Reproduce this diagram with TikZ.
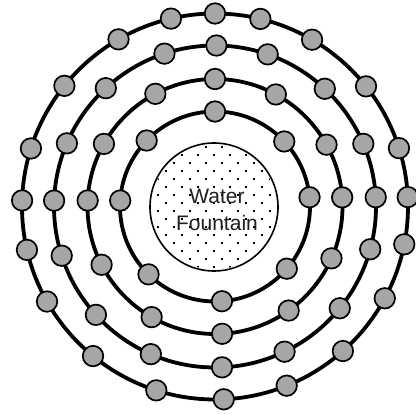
\documentclass[tikz,border=0pt]{standalone}
\usepackage{fontspec}
\setmainfont{Liberation Sans}
\begin{document}
\begin{tikzpicture}[x=1pt,y=1pt,
  ring/.style={line width=3.8pt,draw=black},
  dot/.style={circle,draw=black,line width=1.7pt,fill=dotgray,minimum size=20.5pt,inner sep=0pt},
  fountain/.style={circle,draw=black,line width=1.6pt,minimum size=128pt,inner sep=0pt},
  label/.style={font=\fontsize{21}{27}\selectfont,align=center,text=black!88}]
\definecolor{dotgray}{HTML}{A6A6A6}
\useasboundingbox (0,0) rectangle (416,415);
% fountain
\node[fountain] (fnt) at (214,208) {};
\begin{scope}
  \clip (214,208) circle (62.5);
  \foreach \r in {0,...,17} {
    \pgfmathsetmacro{\yy}{208-68+\r*8}
    \pgfmathsetmacro{\off}{mod(\r,2)*8}
    \foreach \c in {0,...,9} {
      \fill (214-72+\off+\c*16-0.8,\yy-0.8) rectangle ++(1.7,1.7);
    }
  }
\end{scope}
\node[label] (txt) at (217,205) {Water\\Fountain};
% rings
\begin{scope}[shift={(215,208.5)}]
  \coordinate (ctr) at (0,0);
  \draw[ring] (ctr) circle (95);
  \draw[ring] (ctr) circle (127.5);
  \draw[ring] (ctr) circle (161);
  \draw[ring] (ctr) circle (193);
  \foreach \a [count=\i] in {90,43.2,5.6,-40.9,-85.8,-134.4,176.4,136}
    \node[dot] (ra\i) at (\a:95) {};
  \foreach \a [count=\i] in {90,61.5,29,4.1,-24,-54.7,-86.8,-119.8,-152.8,177.3,150.6,117.9}
    \node[dot] (rb\i) at (\a:127.5) {};
  \foreach \a [count=\i] in {89.5,70.9,47,22.9,3.3,-15.4,-39.2,-64.4,-87.5,-113.5,-137.7,-162.2,177.9,156.9,132.7,108.3}
    \node[dot] (rc\i) at (\a:161) {};
  \foreach \a [count=\i] in {90,76.4,59.8,38.5,17.6,2.8,-11.3,-28.4,-48.5,-68.2,-87.4,-107.7,-129.2,-150.5,-167,178.2,162.5,141.3,120,103.2}
    \node[dot] (rd\i) at (\a:193) {};
\end{scope}
\end{tikzpicture}
\end{document}
